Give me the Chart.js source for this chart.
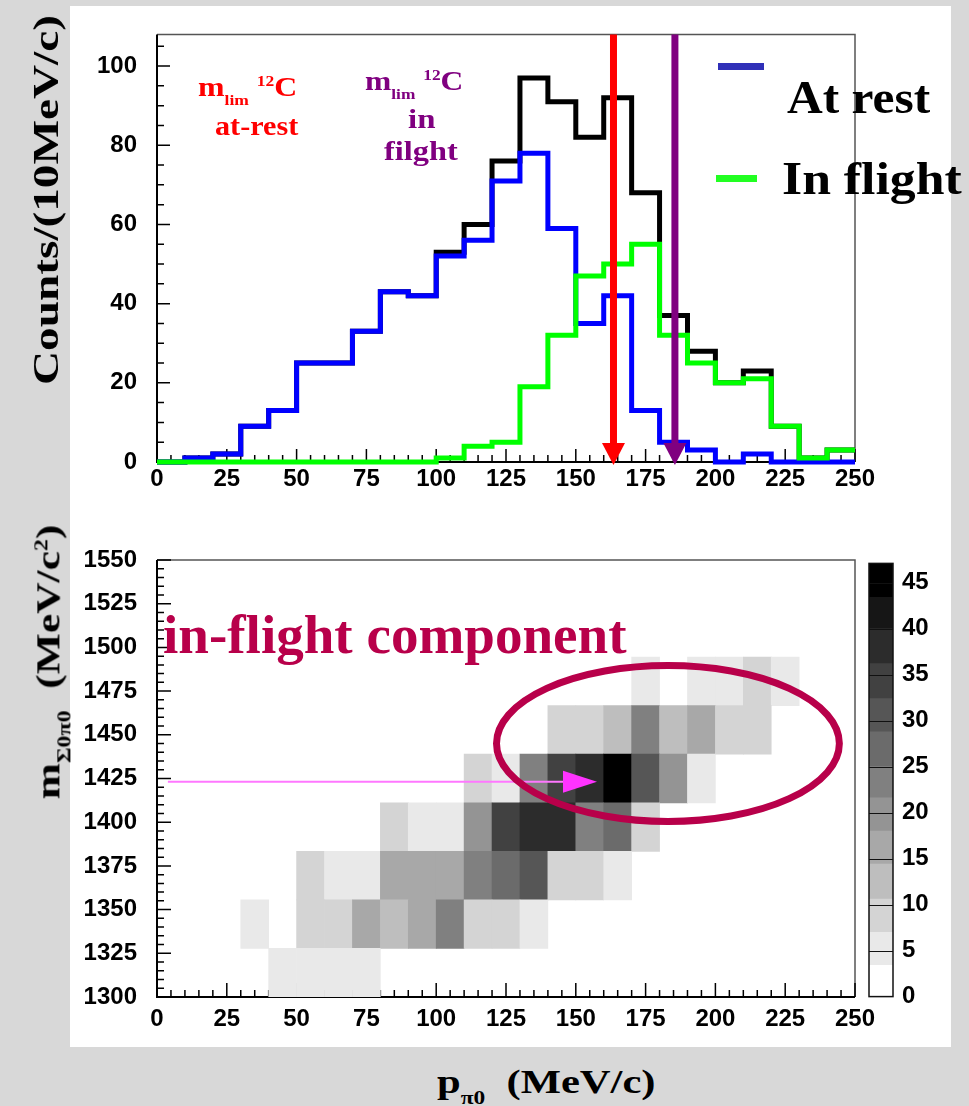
<!DOCTYPE html>
<html lang="en">
<head>
<meta charset="UTF-8">
<title>Sigma0 pi0 momentum and mass</title>
<script src="https://cdn.jsdelivr.net/npm/chart.js"></script>
<style>
    body {
        margin: 0;
        width: 969px;
        height: 1106px;
        overflow: hidden;
        position: relative;
        background-color: #d8d8d8;
        font-family: "Liberation Serif", serif;
    }
    .panel {
        position: absolute;
        left: 70px;
        top: 6px;
        width: 881px;
        height: 1041px;
        background-color: #fff;
    }
    canvas { position: absolute; }
    .lbl {
        position: absolute;
        font-weight: bold;
        line-height: 1;
        white-space: nowrap;
    }
    .sub { font-size: 0.55em; position: relative; top: 0.6em; }
    .sup { font-size: 0.55em; position: relative; top: -0.62em; }
    .key { position: absolute; height: 7px; }
</style>
</head>
<body>
<div class="panel"></div>
<canvas id="histChart" width="969" height="500" style="left:0;top:0"></canvas>
<canvas id="mapChart" width="969" height="540" style="left:0;top:520px"></canvas>
<canvas id="paletteChart" width="109" height="480" style="left:860px;top:540px"></canvas>
<div class="key" style="left:718px;top:63px;width:46px;background:#3030b8"></div>
<div class="key" style="left:716px;top:175px;width:41px;background:#22ff22"></div>

<script>
// ---- top histogram: counts per 10 MeV/c bin ----
const pEdges = [0, 10, 20, 30, 40, 50, 60, 70, 80, 90, 100, 110, 120, 130, 140, 150,
                160, 170, 180, 190, 200, 210, 220, 230, 240, 250];
const atRest   = [0, 1, 2, 9, 13, 25, 25, 33, 43, 42, 52, 56, 71, 78, 59, 35, 42, 13, 5, 3, 0, 2, 0, 0, 0];
const inFlight = [0, 0, 0, 0, 0, 0, 0, 0, 0, 0, 1, 4, 5, 19, 32, 47, 50, 55, 32, 25, 20, 21, 9, 1, 3];
const total    = [0, 1, 2, 9, 13, 25, 25, 33, 43, 42, 53, 60, 76, 97, 91, 82, 92, 68, 37, 28, 20, 23, 9, 1, 3];
const countTicks = [0, 20, 40, 60, 80, 100];
const pTicks = [0, 25, 50, 75, 100, 125, 150, 175, 200, 225, 250];
const limitArrows = [163.5, 185.5];   // m_lim 12C at rest, in flight

// ---- bottom map: counts per (10 MeV/c x 250/9 MeV/c2) cell, rows from 1300 up ----
const massEdges = [1300, 1327.8, 1355.6, 1383.3, 1411.1, 1438.9, 1466.7, 1494.4, 1522.2, 1550];
const massTicks = [1300, 1325, 1350, 1375, 1400, 1425, 1450, 1475, 1500, 1525, 1550];
const cellCounts = [
    [0, 0, 0, 0, 5, 5, 5, 5, 0, 0, 0, 0, 0, 0, 0, 0, 0, 0, 0, 0, 0, 0, 0, 0, 0],
    [0, 0, 0, 5, 0, 8, 8, 16, 12, 16, 22, 8, 8, 5, 0, 0, 0, 0, 0, 0, 0, 0, 0, 0, 0],
    [0, 0, 0, 0, 0, 8, 5, 5, 16, 16, 16, 22, 26, 30, 8, 8, 5, 0, 0, 0, 0, 0, 0, 0, 0],
    [0, 0, 0, 0, 0, 0, 0, 0, 8, 5, 5, 19, 34, 38, 38, 22, 26, 8, 0, 0, 0, 0, 0, 0, 0],
    [0, 0, 0, 0, 0, 0, 0, 0, 0, 0, 0, 8, 5, 22, 34, 38, 46, 30, 19, 5, 0, 0, 0, 0, 0],
    [0, 0, 0, 0, 0, 0, 0, 0, 0, 0, 0, 0, 0, 0, 8, 8, 12, 22, 12, 16, 8, 8, 0, 0, 0],
    [0, 0, 0, 0, 0, 0, 0, 0, 0, 0, 0, 0, 0, 0, 0, 0, 0, 5, 0, 5, 5, 8, 5, 0, 0],
    [0, 0, 0, 0, 0, 0, 0, 0, 0, 0, 0, 0, 0, 0, 0, 0, 0, 0, 0, 0, 0, 0, 0, 0, 0],
    [0, 0, 0, 0, 0, 0, 0, 0, 0, 0, 0, 0, 0, 0, 0, 0, 0, 0, 0, 0, 0, 0, 0, 0, 0]
];
const zLevels = [0, 3.4, 7, 10.6, 14.4, 18, 21.6, 25, 28.8, 32.4, 36.2, 40, 43.4, 47.1];
const zTicks = [0, 5, 10, 15, 20, 25, 30, 35, 40, 45];
const ellipseCenter = [183, 1445];   // p, m
const ellipseRadii = [61.4, 44.6];
const markerMass = 1423.2;
const markerFrom = 3.9, markerTo = 157.6;

const zGrays = ['#ffffff', '#e9e9e9', '#d4d4d4', '#bebebe', '#a8a8a8', '#949494', '#808080',
                '#6b6b6b', '#565656', '#414141', '#2c2c2c', '#161616', '#000000'];
const tickFont = { family: 'Liberation Sans', size: 24, weight: 'bold' };
const plainNum = v => String(v);

function grayFor(c) {
    for (let i = zLevels.length - 2; i >= 0; i--) {
        if (c >= zLevels[i]) return zGrays[i];
    }
    return zGrays[0];
}

// ROOT-like frame with inner major/minor ticks
const rootFrame = {
    id: 'rootFrame',
    beforeDatasetsDraw(chart, args, o) {
        const { ctx, chartArea: a } = chart;
        const sx = chart.scales.x, sy = chart.scales.y;
        ctx.save();
        ctx.lineWidth = 1.5;
        ctx.strokeStyle = '#555';
        ctx.beginPath();
        ctx.moveTo(a.left, a.top); ctx.lineTo(a.right, a.top); ctx.lineTo(a.right, a.bottom);
        ctx.stroke();
        ctx.strokeStyle = '#000';
        ctx.lineWidth = 2;
        ctx.beginPath();
        ctx.moveTo(a.left, a.top); ctx.lineTo(a.left, a.bottom); ctx.lineTo(a.right, a.bottom);
        ctx.stroke();
        ctx.lineWidth = 1.5;
        ctx.beginPath();
        const nx = Math.round((sx.max - sx.min) / o.xMinor);
        for (let k = 0; k <= nx; k++) {
            const v = sx.min + k * o.xMinor;
            const px = sx.getPixelForValue(v);
            const len = (k * o.xMinor) % o.xMajor === 0 ? o.majorLen : o.minorLen;
            ctx.moveTo(px, a.bottom); ctx.lineTo(px, a.bottom - len);
        }
        const ny = Math.floor((sy.max - sy.min) / o.yMinor + 1e-6);
        for (let k = 0; k <= ny; k++) {
            const v = sy.min + k * o.yMinor;
            const py = sy.getPixelForValue(v);
            const len = (k * o.yMinor) % o.yMajor === 0 ? o.majorLen : o.minorLen;
            ctx.moveTo(a.left, py); ctx.lineTo(a.left + len, py);
        }
        ctx.stroke();
        ctx.restore();
    }
};

const arrowPlugin = {
    id: 'limitArrows',
    afterDatasetsDraw(chart, args, o) {
        const { ctx, chartArea: a, scales: { x, y } } = chart;
        ctx.save();
        limitArrows.forEach((p, i) => {
            const px = x.getPixelForValue(p);
            const tip = y.getPixelForValue(0) + 3;
            ctx.strokeStyle = o.colors[i];
            ctx.fillStyle = o.colors[i];
            ctx.lineWidth = 7;
            ctx.beginPath();
            ctx.moveTo(px, a.top);
            ctx.lineTo(px, tip - 18);
            ctx.stroke();
            ctx.beginPath();
            ctx.moveTo(px - 11.5, tip - 22);
            ctx.lineTo(px + 11.5, tip - 22);
            ctx.lineTo(px, tip);
            ctx.closePath();
            ctx.fill();
        });
        ctx.restore();
    }
};

const mapMarks = {
    id: 'mapMarks',
    afterDatasetsDraw(chart) {
        const { ctx, scales: { x, y } } = chart;
        ctx.save();
        const py = y.getPixelForValue(markerMass);
        const x0 = x.getPixelForValue(markerFrom), x1 = x.getPixelForValue(markerTo);
        ctx.strokeStyle = '#ff77ff';
        ctx.lineWidth = 2;
        ctx.beginPath();
        ctx.moveTo(x0, py); ctx.lineTo(x1 - 30, py);
        ctx.stroke();
        ctx.fillStyle = '#ff33ff';
        ctx.beginPath();
        ctx.moveTo(x1 - 34, py - 11); ctx.lineTo(x1, py); ctx.lineTo(x1 - 34, py + 11);
        ctx.closePath();
        ctx.fill();

        const cx = x.getPixelForValue(ellipseCenter[0]);
        const cy = y.getPixelForValue(ellipseCenter[1]);
        const rx = x.getPixelForValue(ellipseCenter[0] + ellipseRadii[0]) - cx;
        const ry = cy - y.getPixelForValue(ellipseCenter[1] + ellipseRadii[1]);
        ctx.strokeStyle = '#b8004a';
        ctx.lineWidth = 7;
        ctx.beginPath();
        ctx.ellipse(cx, cy, rx, ry, 0, 0, 2 * Math.PI);
        ctx.stroke();
        ctx.restore();
    }
};

const paletteFrame = {
    id: 'paletteFrame',
    afterDatasetsDraw(chart) {
        const { ctx, chartArea: a, scales: { y } } = chart;
        ctx.save();
        ctx.strokeStyle = '#111';
        ctx.lineWidth = 1;
        ctx.beginPath();
        zTicks.filter(v => v > 0).forEach(v => {
            const py = Math.round(y.getPixelForValue(v)) + 0.5;
            ctx.moveTo(a.left, py); ctx.lineTo(a.right, py);
        });
        ctx.stroke();
        ctx.lineWidth = 1.5;
        ctx.strokeRect(a.left, a.top, a.right - a.left, a.bottom - a.top);
        ctx.restore();
    }
};

function valueTicks(list) {
    return scale => { scale.ticks = list.map(v => ({ value: v })); };
}

// ---- top: momentum spectrum ----
const steps = vals => vals.map((v, i) => ({ x: pEdges[i], y: v }))
    .concat([{ x: pEdges[pEdges.length - 1], y: vals[vals.length - 1] }]);

new Chart(document.getElementById('histChart'), {
    type: 'line',
    data: {
        datasets: [
            { label: 'In flight', data: steps(inFlight), borderColor: '#00ff00' },
            { label: 'At rest', data: steps(atRest), borderColor: '#0000ff' },
            { label: 'Total', data: steps(total), borderColor: '#000000' }
        ].map(d => Object.assign(d, {
            stepped: 'before', borderWidth: 5, pointRadius: 0, fill: false, clip: 8,
            borderJoinStyle: 'miter', borderCapStyle: 'butt'
        }))
    },
    options: {
        responsive: false,
        animation: false,
        layout: { padding: { left: 0, right: 114, top: 25, bottom: 0 } },
        plugins: {
            legend: { display: false },
            tooltip: { enabled: false },
            rootFrame: { xMajor: 25, xMinor: 5, yMajor: 20, yMinor: 5, majorLen: 13, minorLen: 7 },
            limitArrows: { colors: ['#ff0000', '#800080'] }
        },
        scales: {
            x: {
                type: 'linear', min: 0, max: 250,
                grid: { display: false, drawTicks: false }, border: { display: false },
                ticks: { font: tickFont, color: '#000', padding: 3, maxRotation: 0, callback: plainNum },
                afterBuildTicks: valueTicks(pTicks),
                afterFit: s => { s.height = 38; }
            },
            y: {
                min: 0, max: 108,
                grid: { display: false, drawTicks: false }, border: { display: false },
                ticks: { font: tickFont, color: '#000', padding: 20, callback: plainNum },
                afterBuildTicks: valueTicks(countTicks),
                afterFit: s => { s.width = 157; }
            }
        }
    },
    plugins: [rootFrame, arrowPlugin]
});

// ---- bottom: mass vs momentum map ----
const cellSets = cellCounts.map((row, j) => ({
    data: row.map((c, i) => ({
        x: (pEdges[i] + pEdges[i + 1]) / 2,
        y: [massEdges[j], massEdges[j + 1]],
        c: c
    })).filter(d => d.c > 0),
    backgroundColor: ctx => (ctx.raw ? grayFor(ctx.raw.c) : '#fff'),
    borderWidth: 0,
    barPercentage: 1,
    categoryPercentage: 1,
    grouped: false
}));

new Chart(document.getElementById('mapChart'), {
    type: 'bar',
    data: { datasets: cellSets },
    options: {
        responsive: false,
        animation: false,
        layout: { padding: { left: 0, right: 114, top: 40, bottom: 0 } },
        plugins: {
            legend: { display: false },
            tooltip: { enabled: false },
            rootFrame: { xMajor: 25, xMinor: 5, yMajor: 25, yMinor: 5, majorLen: 14, minorLen: 7 }
        },
        scales: {
            x: {
                type: 'linear', min: 0, max: 250, offset: false,
                grid: { display: false, drawTicks: false }, border: { display: false },
                ticks: { font: tickFont, color: '#000', padding: 8, maxRotation: 0, callback: plainNum },
                afterBuildTicks: valueTicks(pTicks),
                afterFit: s => { s.height = 63; }
            },
            y: {
                type: 'linear', min: 1300, max: 1550,
                grid: { display: false, drawTicks: false }, border: { display: false },
                ticks: { font: tickFont, color: '#000', padding: 20, callback: plainNum },
                afterBuildTicks: valueTicks(massTicks),
                afterFit: s => { s.width = 157; }
            }
        }
    },
    plugins: [rootFrame, mapMarks]
});

// ---- colour palette ----
new Chart(document.getElementById('paletteChart'), {
    type: 'bar',
    data: {
        labels: ['z'],
        datasets: zGrays.map((g, i) => ({
            data: [zLevels[i + 1] - zLevels[i]],
            backgroundColor: g,
            borderWidth: 0,
            barPercentage: 1,
            categoryPercentage: 1
        }))
    },
    options: {
        responsive: false,
        animation: false,
        layout: { padding: { left: 9, right: 0, top: 20, bottom: 22 } },
        plugins: { legend: { display: false }, tooltip: { enabled: false } },
        scales: {
            x: { display: false, stacked: true },
            y: {
                stacked: true, position: 'right', min: 0, max: 47.1,
                grid: { display: false, drawTicks: false }, border: { display: false },
                ticks: { font: tickFont, color: '#000', padding: 9, callback: plainNum },
                afterBuildTicks: valueTicks(zTicks),
                afterFit: s => { s.width = 76; }
            }
        }
    },
    plugins: [paletteFrame]
});

// ---- text labels ----
function addLabel(html, o) {
    const el = document.createElement('div');
    el.className = 'lbl';
    el.innerHTML = html;
    el.style.fontSize = o.size + 'px';
    el.style.color = o.color || '#000';
    document.body.appendChild(el);
    const w = el.offsetWidth;
    const s = o.width ? o.width / w : 1;
    if (o.rotate) {
        el.style.left = (o.cx - w / 2) + 'px';
        el.style.top = (o.cy - o.size / 2) + 'px';
        el.style.transformOrigin = '50% 50%';
        el.style.transform = 'rotate(-90deg) scaleX(' + s + ')';
    } else {
        el.style.left = o.left + 'px';
        el.style.top = (o.baseline - 0.8375 * o.size) + 'px';
        el.style.transformOrigin = '0 0';
        el.style.transform = 'scaleX(' + s + ')';
    }
}

addLabel('Counts/(10MeV/c)', { size: 36, rotate: true, cx: 46, cy: 200, width: 370 });
addLabel('m<span class="sub">lim</span> <span class="sup">12</span>C', { size: 28, left: 198, baseline: 96, width: 99, color: '#ff0000' });
addLabel('at-rest', { size: 28, left: 215, baseline: 135, width: 83, color: '#ff0000' });
addLabel('m<span class="sub">lim</span> <span class="sup">12</span>C', { size: 28, left: 365, baseline: 90, width: 98, color: '#800080' });
addLabel('in', { size: 28, left: 408, baseline: 128, width: 27, color: '#800080' });
addLabel('filght', { size: 28, left: 384, baseline: 160, width: 74, color: '#800080' });
addLabel('At rest', { size: 46, left: 787, baseline: 114, width: 143 });
addLabel('In flight', { size: 46, left: 782, baseline: 195, width: 180 });
addLabel('in-flight component', { size: 54, left: 163, baseline: 653, width: 464, color: '#b8004a' });
addLabel('m<span class="sub">&Sigma;0&pi;0</span>&nbsp;&nbsp;(MeV/c<span class="sup">2</span>)', { size: 34, rotate: true, cx: 48, cy: 662, width: 275 });
addLabel('p<span class="sub">&pi;0</span>&nbsp;&nbsp;(MeV/c)', { size: 34, left: 437, baseline: 1093, width: 218 });
</script>
</body>
</html>
